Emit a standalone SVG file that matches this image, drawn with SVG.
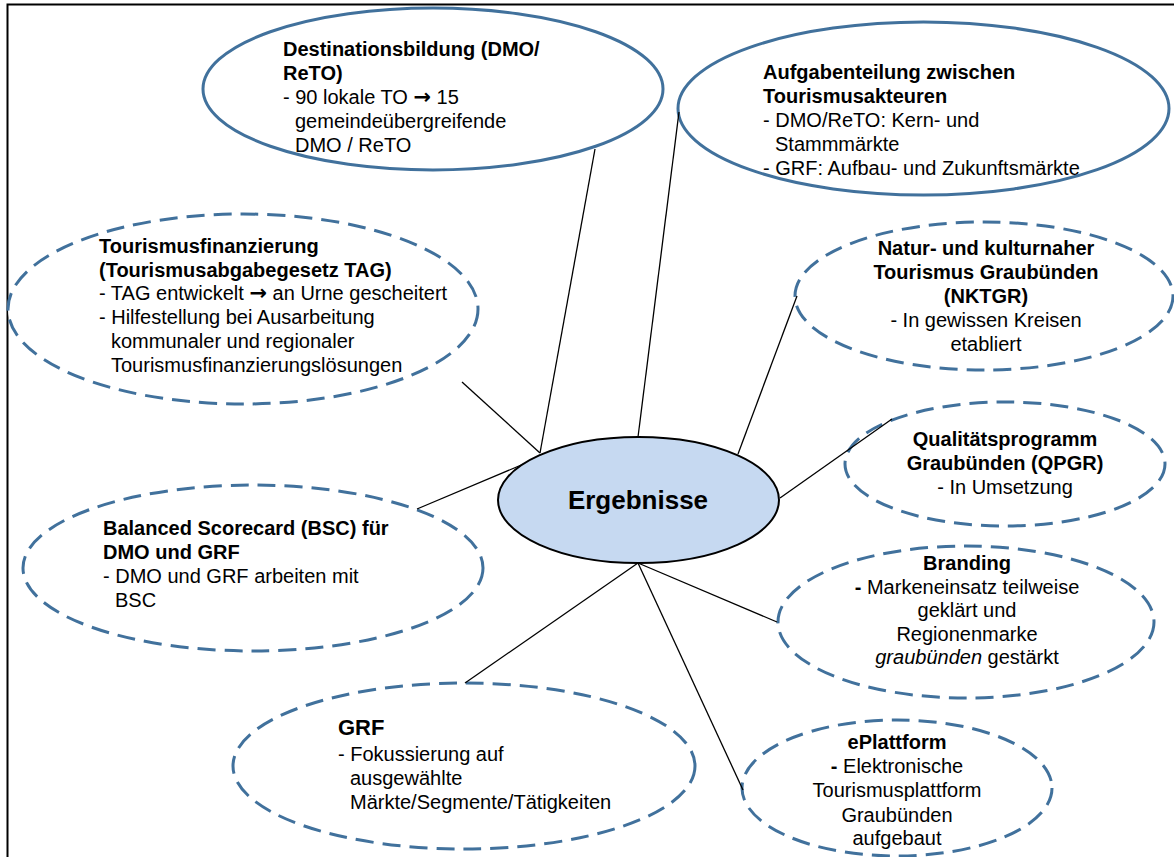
<svg xmlns="http://www.w3.org/2000/svg" width="1174" height="857" viewBox="0 0 1174 857">
<style>
text{font-family:"Liberation Sans",Arial,sans-serif;font-size:20px;fill:#000}
.b{font-weight:bold}
.c{text-anchor:middle}
.arr{font-family:"DejaVu Sans",sans-serif;font-weight:bold;font-size:21px}
.solid{fill:#fff;stroke:#41719c;stroke-width:3}
.dash{fill:#fff;stroke:#41719c;stroke-width:3;stroke-dasharray:18 9}
.conn line{stroke:#000;stroke-width:1.3}
</style>
<rect x="0" y="0" width="1174" height="857" fill="#fff"/>
<rect x="7.5" y="4.5" width="1200" height="900" fill="none" stroke="#000" stroke-width="2"/>
<g id="n-destination">
<ellipse class="solid" cx="433" cy="89" rx="230" ry="81"/>
<text x="283" y="56" class="b">Destinationsbildung (DMO/</text>
<text x="283" y="80" class="b">ReTO)</text>
<text x="283" y="104">- 90 lokale TO <tspan class="arr">→</tspan> 15</text>
<text x="295" y="128">gemeindeübergreifende</text>
<text x="295" y="152">DMO / ReTO</text>
</g>
<g id="n-aufgaben">
<ellipse class="solid" cx="923.5" cy="108.5" rx="245.5" ry="86.5"/>
<text x="763" y="79" class="b">Aufgabenteilung zwischen</text>
<text x="763" y="103" class="b">Tourismusakteuren</text>
<text x="763" y="127">- DMO/ReTO: Kern- und</text>
<text x="775" y="151">Stammmärkte</text>
<text x="763" y="175">- GRF: Aufbau- und Zukunftsmärkte</text>
</g>
<g id="n-finanz">
<ellipse class="dash" cx="243" cy="309" rx="235" ry="95"/>
<text x="99" y="253" class="b">Tourismusfinanzierung</text>
<text x="99" y="277" class="b">(Tourismusabgabegesetz TAG)</text>
<text x="99" y="300">- TAG entwickelt <tspan class="arr">→</tspan> an Urne gescheitert</text>
<text x="99" y="324">- Hilfestellung bei Ausarbeitung</text>
<text x="111" y="348">kommunaler und regionaler</text>
<text x="111" y="372">Tourismusfinanzierungslösungen</text>
</g>
<g id="n-nktgr">
<ellipse class="dash" cx="984" cy="296" rx="189" ry="74"/>
<text x="986" y="255" class="b c">Natur- und kulturnaher</text>
<text x="986" y="279" class="b c">Tourismus Graubünden</text>
<text x="986" y="303" class="b c">(NKTGR)</text>
<text x="986" y="327" class="c">- In gewissen Kreisen</text>
<text x="986" y="351" class="c">etabliert</text>
</g>
<g id="n-qpgr">
<ellipse class="dash" cx="1005" cy="464" rx="160" ry="62"/>
<text x="1005" y="446" class="b c">Qualitätsprogramm</text>
<text x="1005" y="470" class="b c">Graubünden (QPGR)</text>
<text x="1005" y="494" class="c">- In Umsetzung</text>
</g>
<g id="n-branding">
<ellipse class="dash" cx="966" cy="622" rx="188" ry="76"/>
<text x="967" y="570" class="b c">Branding</text>
<text x="967" y="594" class="c"><tspan class="b">-</tspan> Markeneinsatz teilweise</text>
<text x="967" y="617" class="c">geklärt und</text>
<text x="967" y="641" class="c">Regionenmarke</text>
<text x="967" y="664" class="c"><tspan font-style="italic">graubünden</tspan> gestärkt</text>
</g>
<g id="n-eplattform">
<ellipse class="dash" cx="897" cy="788" rx="155" ry="68"/>
<text x="897" y="749" class="b c">ePlattform</text>
<text x="897" y="773" class="c"><tspan class="b">-</tspan> Elektronische</text>
<text x="897" y="797" class="c">Tourismusplattform</text>
<text x="897" y="822" class="c">Graubünden</text>
<text x="897" y="845" class="c">aufgebaut</text>
</g>
<g id="n-grf">
<ellipse class="dash" cx="464" cy="766" rx="231" ry="83"/>
<text x="338" y="735" class="b" style="font-size:22px">GRF</text>
<text x="338" y="761">- Fokussierung auf</text>
<text x="350" y="785">ausgewählte</text>
<text x="350" y="809">Märkte/Segmente/Tätigkeiten</text>
</g>
<g id="n-bsc">
<ellipse class="dash" cx="253" cy="568" rx="230" ry="83"/>
<text x="103" y="535" class="b">Balanced Scorecard (BSC) für</text>
<text x="103" y="559" class="b">DMO und GRF</text>
<text x="103" y="583">- DMO und GRF arbeiten mit</text>
<text x="115" y="607">BSC</text>
</g>
<g class="conn" id="connectors">
<line x1="595" y1="149" x2="540" y2="453"/>
<line x1="462" y1="382" x2="540" y2="453"/>
<line x1="679" y1="112" x2="638" y2="437"/>
<line x1="797" y1="296" x2="738" y2="454"/>
<line x1="892" y1="419" x2="780" y2="498"/>
<line x1="417" y1="509" x2="526" y2="463"/>
<line x1="638" y1="563" x2="465" y2="683"/>
<line x1="638" y1="563" x2="743" y2="790"/>
<line x1="638" y1="563" x2="777" y2="622"/>
</g>
<g id="n-ergebnisse">
<ellipse cx="638.5" cy="500" rx="140.5" ry="63" fill="#c6d9f1" stroke="#000" stroke-width="2"/>
<text x="638" y="509" class="b c" style="font-size:26px">Ergebnisse</text>
</g>
</svg>
